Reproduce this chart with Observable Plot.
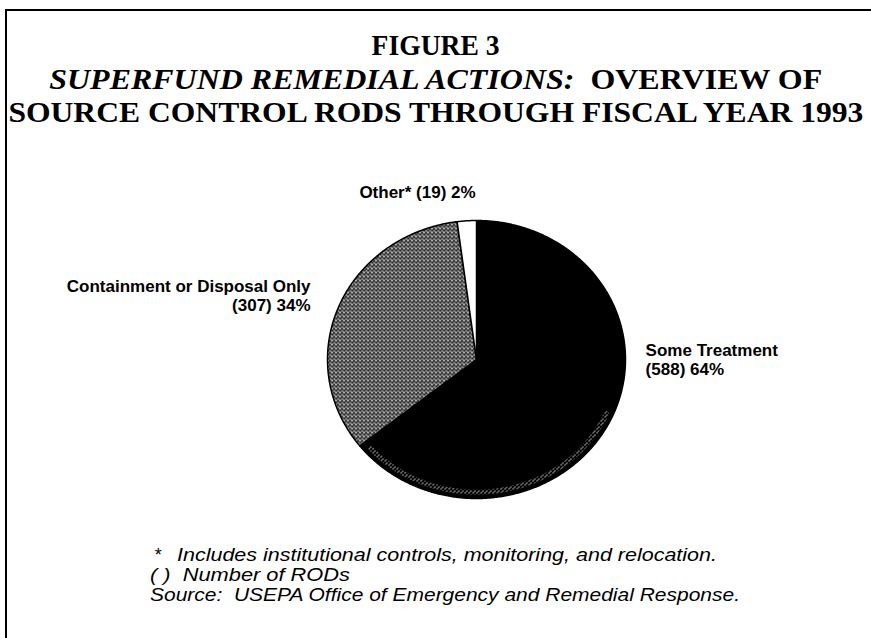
<!DOCTYPE html>
<html>
<head>
<meta charset="utf-8">
<script src="https://cdn.jsdelivr.net/npm/d3@7"></script>
<script src="https://cdn.jsdelivr.net/npm/@observablehq/plot@0.6"></script>
<style>
html, body { margin: 0; padding: 0; background: #fff; }
#page { position: relative; width: 871px; height: 638px; overflow: hidden; background: #fff; }
#frame { position: absolute; left: 5px; top: 9px; width: 900px; height: 700px; border-left: 2px solid #000; border-top: 2px solid #000; }
.title { position: absolute; left: -500px; width: 1871px; text-align: center; font-family: "Liberation Serif", "Times New Roman", serif; font-weight: bold; font-size: 30px; line-height: 30px; color: #000; white-space: nowrap; }
.fit { display: inline-block; white-space: nowrap; }
.title .fit { transform-origin: 50% 50%; }
#chart { position: absolute; left: 0; top: 140px; }
.note { position: absolute; font-family: "Liberation Sans", Arial, sans-serif; font-style: italic; font-size: 18px; line-height: 18px; white-space: nowrap; color: #000; }
.note .fit { transform-origin: 0 50%; }
</style>
</head>
<body>
<div id="page">
  <div id="frame"></div>
  <div class="title" style="top:30px"><span class="fit" data-w="128">FIGURE 3</span></div>
  <div class="title" style="top:63.5px"><span class="fit" data-w="773"><i>SUPERFUND REMEDIAL ACTIONS:</i>&nbsp; OVERVIEW OF</span></div>
  <div class="title" style="top:97px"><span class="fit" data-w="855">SOURCE CONTROL RODS THROUGH FISCAL YEAR 1993</span></div>
  <div id="chart"></div>
  <div class="note" style="left:154px; top:546px">*</div>
  <div class="note" style="left:177px; top:546px"><span class="fit" data-w="540">Includes institutional controls, monitoring, and relocation.</span></div>
  <div class="note" style="left:150px; top:566px"><span class="fit" data-w="200">( )&nbsp; Number of RODs</span></div>
  <div class="note" style="left:150px; top:586px"><span class="fit" data-w="590">Source:&nbsp; USEPA Office of Emergency and Remedial Response.</span></div>
</div>
<script>
// ---- data ----
const categories = ["Some Treatment", "Containment or Disposal Only", "Other*"];
const rodCounts = [588, 307, 19];
const percents = [64, 34, 2];

// ---- styling / layout (not data) ----
const fills = ["#000", "url(#halftone)", "#fff"];
// label placement: angle (degrees clockwise from 12 o'clock), radius factor, anchor, single line?
const labelLayout = [
  {angle: 90, r: 1.135, anchor: "start", oneLine: false},
  {angle: 292.4, r: 1.205, anchor: "end", oneLine: false},
  {angle: -18.2, r: 1.268, anchor: "middle", oneLine: true}
];

const slices = categories.map((c, i) => ({category: c, count: rodCounts[i], pct: percents[i], fill: fills[i]}));
const arcs = d3.pie().sort(null).value(d => d.count)(slices);

function arcPoints(a0, a1, r) {
  const n = Math.max(2, Math.ceil(Math.abs(a1 - a0) / (Math.PI / 360)));
  const pts = [];
  for (let k = 0; k <= n; k++) {
    const a = a0 + (a1 - a0) * k / n;
    pts.push([r * Math.sin(a), r * Math.cos(a)]);
  }
  return pts;
}

const wedgeMarks = arcs.map(a => {
  const pts = [[0, 0], ...arcPoints(a.startAngle, a.endAngle, 1), [0, 0]];
  return Plot.line(pts, {x: d => d[0], y: d => d[1], fill: a.data.fill, stroke: "#000", strokeWidth: 1.5, strokeLinejoin: "round"});
});

// halftone rim shading along the bottom edge of the large slice
const rim = arcPoints(114 * Math.PI / 180, 228 * Math.PI / 180, 0.955);

const labels = arcs.map((a, i) => {
  const L = labelLayout[i];
  const t = L.angle * Math.PI / 180;
  const text = L.oneLine
    ? `${a.data.category} (${a.data.count}) ${a.data.pct}%`
    : `${a.data.category}\n(${a.data.count}) ${a.data.pct}%`;
  return {x: L.r * Math.sin(t), y: L.r * Math.cos(t), text, anchor: L.anchor};
});

const cx = 476, cy = 219, rx = 149, ry = 139;
const chart = Plot.plot({
  width: 871,
  height: 400,
  margin: 0,
  x: {domain: [-1, 1], range: [cx - rx, cx + rx], axis: null},
  y: {domain: [-1, 1], range: [cy + ry, cy - ry], axis: null},
  style: {background: "transparent"},
  marks: [
    ...wedgeMarks,
    Plot.line(rim, {x: d => d[0], y: d => d[1], stroke: "url(#halftone2)", strokeWidth: 5}),
    ...["start", "end", "middle"].map(anchor =>
      Plot.text(labels.filter(d => d.anchor === anchor), {
        x: "x", y: "y", text: "text", textAnchor: anchor,
        fontSize: 17, fontWeight: "bold", fontFamily: "Liberation Sans, Arial, sans-serif",
        lineHeight: 1.12, fill: "#000"
      })
    )
  ]
});

// halftone patterns
const svg = d3.select(chart);
const defs = svg.insert("defs", ":first-child");
function pattern(id, whites, greys) {
  const p = defs.append("pattern").attr("id", id).attr("patternUnits", "userSpaceOnUse").attr("width", 4).attr("height", 4);
  p.append("rect").attr("width", 4).attr("height", 4).attr("fill", "#000");
  whites.forEach(([x, y]) => p.append("rect").attr("x", x).attr("y", y).attr("width", 1).attr("height", 1).attr("fill", "#fff"));
  greys.forEach(([x, y]) => p.append("rect").attr("x", x).attr("y", y).attr("width", 1).attr("height", 1).attr("fill", "#aaa"));
}
pattern("halftone", [[0, 0], [2, 1], [1, 2], [3, 3], [2, 3]], [[0, 2], [3, 0]]);
pattern("halftone2", [[0, 0], [2, 2]], [[1, 3]]);

document.getElementById("chart").appendChild(chart);

// fit text runs to the widths measured on the reference
document.querySelectorAll(".fit").forEach(el => {
  const target = +el.dataset.w;
  const w = el.getBoundingClientRect().width;
  if (w > 0 && target > 0) el.style.transform = `scaleX(${(target / w).toFixed(4)})`;
});
</script>
</body>
</html>
